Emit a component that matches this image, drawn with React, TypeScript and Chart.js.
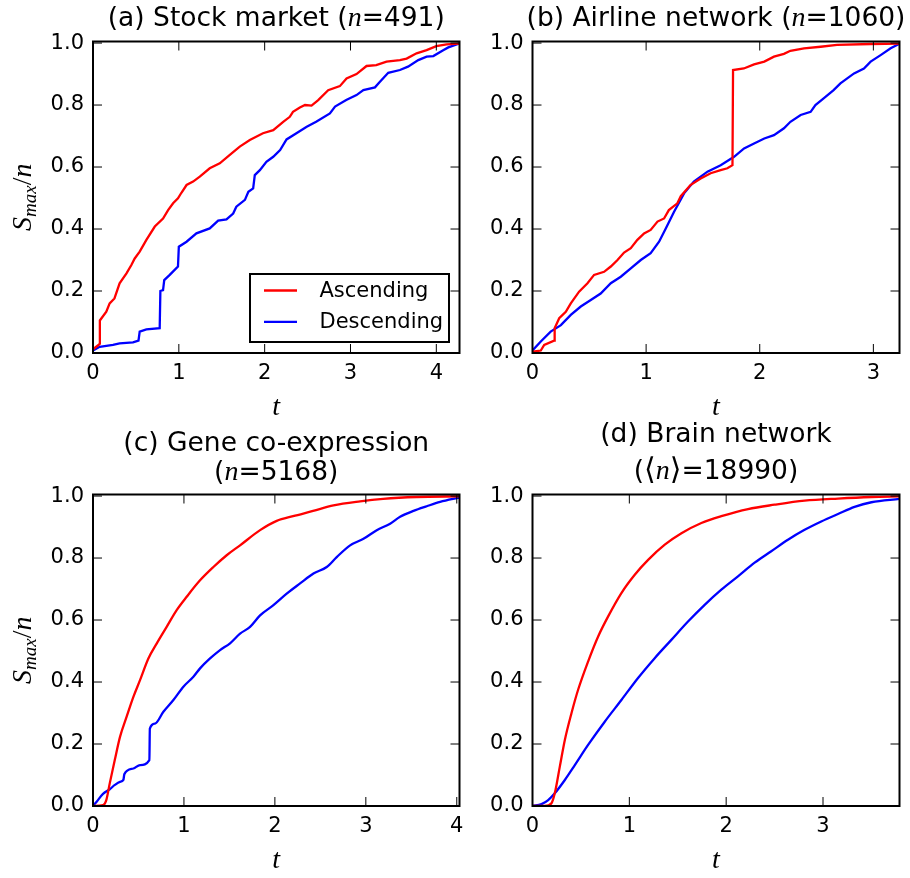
import React, { useEffect, useRef } from "react";
import { Chart, registerables } from "chart.js";

Chart.register(...registerables);

// ---------- data ----------
const seriesLabels = ["Ascending", "Descending"];
const yTickValues = [0, 0.2, 0.4, 0.6, 0.8, 1.0];

// (a) Stock market
const stockXTicks = [0, 1, 2, 3, 4];
const stockAscT = [0, 0.06, 0.08, 0.08, 0.155, 0.194, 0.25, 0.31, 0.39, 0.447, 0.486, 0.544, 0.622, 0.72, 0.816, 0.875, 0.933, 0.99, 1.03, 1.09, 1.166, 1.244, 1.36, 1.477, 1.594, 1.71, 1.827, 1.98, 2.1, 2.216, 2.293, 2.33, 2.41, 2.47, 2.546, 2.624, 2.74, 2.876, 2.954, 3.07, 3.187, 3.3, 3.42, 3.576, 3.654, 3.77, 3.887, 4.0, 4.12, 4.27];
const stockAscS = [0.012, 0.025, 0.03, 0.105, 0.133, 0.16, 0.176, 0.225, 0.257, 0.284, 0.305, 0.327, 0.365, 0.408, 0.434, 0.461, 0.483, 0.499, 0.517, 0.542, 0.553, 0.569, 0.596, 0.612, 0.639, 0.666, 0.687, 0.709, 0.719, 0.746, 0.762, 0.778, 0.792, 0.8, 0.798, 0.816, 0.848, 0.861, 0.886, 0.9, 0.926, 0.929, 0.94, 0.945, 0.95, 0.967, 0.977, 0.99, 0.996, 0.998];
const stockDescT = [0, 0.078, 0.233, 0.31, 0.466, 0.53, 0.544, 0.622, 0.777, 0.785, 0.816, 0.83, 0.894, 0.99, 1.0, 1.09, 1.205, 1.36, 1.458, 1.555, 1.633, 1.67, 1.77, 1.81, 1.866, 1.885, 1.944, 2.02, 2.1, 2.18, 2.255, 2.37, 2.49, 2.6, 2.76, 2.82, 2.95, 3.07, 3.15, 3.285, 3.343, 3.44, 3.576, 3.67, 3.79, 3.887, 3.965, 4.08, 4.14, 4.27];
const stockDescS = [0.008, 0.02, 0.026, 0.031, 0.034, 0.04, 0.069, 0.076, 0.08, 0.2, 0.203, 0.235, 0.252, 0.279, 0.343, 0.359, 0.386, 0.402, 0.427, 0.431, 0.45, 0.472, 0.494, 0.52, 0.531, 0.574, 0.59, 0.617, 0.633, 0.655, 0.689, 0.709, 0.73, 0.746, 0.773, 0.795, 0.816, 0.832, 0.848, 0.857, 0.875, 0.904, 0.913, 0.924, 0.945, 0.956, 0.958, 0.977, 0.986, 0.999];

// (b) Airline network
const airXTicks = [0, 1, 2, 3];
const airAscT = [0, 0.073, 0.103, 0.19, 0.195, 0.235, 0.293, 0.337, 0.41, 0.484, 0.542, 0.63, 0.689, 0.748, 0.806, 0.865, 0.923, 0.982, 1.04, 1.1, 1.158, 1.2, 1.275, 1.305, 1.39, 1.48, 1.568, 1.656, 1.715, 1.76, 1.765, 1.86, 1.95, 2.04, 2.125, 2.213, 2.27, 2.39, 2.536, 2.68, 2.976, 3.23];
const airAscS = [0.004, 0.008, 0.026, 0.04, 0.08, 0.112, 0.133, 0.16, 0.198, 0.225, 0.252, 0.262, 0.279, 0.3, 0.324, 0.338, 0.365, 0.386, 0.397, 0.424, 0.434, 0.461, 0.483, 0.506, 0.542, 0.563, 0.58, 0.59, 0.596, 0.606, 0.913, 0.918, 0.931, 0.94, 0.956, 0.965, 0.975, 0.983, 0.988, 0.994, 0.997, 0.998];
const airDescT = [0, 0.073, 0.16, 0.25, 0.337, 0.425, 0.513, 0.6, 0.689, 0.777, 0.865, 0.953, 1.04, 1.114, 1.173, 1.246, 1.334, 1.42, 1.54, 1.656, 1.774, 1.862, 1.95, 2.04, 2.125, 2.213, 2.27, 2.36, 2.448, 2.49, 2.565, 2.65, 2.71, 2.83, 2.917, 2.976, 3.064, 3.152, 3.23];
const airDescS = [0.008, 0.037, 0.069, 0.09, 0.123, 0.15, 0.171, 0.192, 0.225, 0.246, 0.273, 0.3, 0.322, 0.359, 0.402, 0.456, 0.515, 0.553, 0.585, 0.606, 0.633, 0.66, 0.676, 0.692, 0.703, 0.725, 0.746, 0.768, 0.778, 0.8, 0.822, 0.848, 0.87, 0.902, 0.918, 0.94, 0.961, 0.983, 0.998];

// (c) Gene co-expression
const geneXTicks = [0, 1, 2, 3, 4];
const geneAscT = [0, 0.11, 0.147, 0.184, 0.24, 0.297, 0.37, 0.444, 0.517, 0.609, 0.7, 0.81, 0.92, 1.03, 1.177, 1.324, 1.47, 1.617, 1.837, 2.02, 2.2, 2.42, 2.644, 2.937, 3.19, 3.56, 4.03];
const geneAscS = [0, 0.003, 0.02, 0.073, 0.149, 0.223, 0.288, 0.352, 0.406, 0.476, 0.524, 0.578, 0.632, 0.675, 0.728, 0.771, 0.809, 0.841, 0.89, 0.92, 0.935, 0.952, 0.97, 0.983, 0.991, 0.997, 0.999];
const geneDescT = [0, 0.04, 0.11, 0.184, 0.24, 0.297, 0.334, 0.345, 0.444, 0.517, 0.62, 0.625, 0.682, 0.774, 0.884, 0.994, 1.104, 1.177, 1.287, 1.397, 1.507, 1.617, 1.727, 1.837, 1.984, 2.13, 2.277, 2.424, 2.57, 2.68, 2.827, 2.974, 3.12, 3.267, 3.377, 3.524, 3.67, 3.817, 4.03];
const geneDescS = [0, 0.014, 0.039, 0.054, 0.068, 0.078, 0.084, 0.103, 0.121, 0.132, 0.148, 0.25, 0.266, 0.304, 0.342, 0.385, 0.417, 0.444, 0.476, 0.503, 0.525, 0.556, 0.578, 0.615, 0.648, 0.685, 0.718, 0.75, 0.771, 0.803, 0.841, 0.862, 0.89, 0.911, 0.933, 0.952, 0.967, 0.981, 0.995];

// (d) Brain network
const brainXTicks = [0, 1, 2, 3];
const brainAscT = [0, 0.127, 0.196, 0.23, 0.282, 0.334, 0.403, 0.471, 0.574, 0.678, 0.78, 0.918, 1.056, 1.194, 1.366, 1.538, 1.744, 1.95, 2.226, 2.5, 2.81, 3.155, 3.5, 3.79];
const brainAscS = [0, 0, 0.009, 0.041, 0.127, 0.213, 0.3, 0.375, 0.466, 0.547, 0.611, 0.687, 0.746, 0.794, 0.843, 0.88, 0.913, 0.935, 0.958, 0.972, 0.985, 0.992, 0.997, 0.999];
const brainDescT = [0, 0.093, 0.162, 0.23, 0.334, 0.437, 0.574, 0.746, 0.918, 1.09, 1.262, 1.434, 1.606, 1.778, 1.95, 2.122, 2.294, 2.466, 2.638, 2.81, 2.982, 3.155, 3.326, 3.5, 3.79];
const brainDescS = [0, 0.006, 0.019, 0.041, 0.084, 0.132, 0.197, 0.272, 0.342, 0.413, 0.477, 0.536, 0.595, 0.649, 0.698, 0.741, 0.785, 0.822, 0.859, 0.891, 0.918, 0.942, 0.965, 0.98, 0.991];

// ---------- styles / layout ----------
const W = 910;
const H = 878;
const SANS = '"DejaVu Sans", sans-serif';
const TITLE_FONT = `26.5px ${SANS}`;
const MATH_FONT = 'italic 28px "Liberation Serif", serif';
const MATH_SUB_FONT = 'italic 19px "Liberation Serif", serif';
const MATH_UP_FONT = '28px "Liberation Serif", serif';
const BRACKET_FONT = `30px ${SANS}`;
const TICK_FONT_SIZE = 21;
const ASC_COLOR = "#ff0000";
const DESC_COLOR = "#0000ff";
const LINE_W = 2.3;
const Y_AXIS_W = 60;
const X_AXIS_H = 40;
const TICK_LEN = 9;

type Seg = { text: string; font: string; dy?: number };
type TitleLine = { baseline: number; segs: Seg[] };

type PanelDef = {
  area: { left: number; top: number; right: number; bottom: number };
  xMax: number;
  xTicks: number[];
  asc: [number[], number[]];
  desc: [number[], number[]];
  title: TitleLine[];
  xLabelBaseline: number;
  yLabel: boolean;
  legend: boolean;
  smooth: boolean;
};

const nSeg = (): Seg => ({ text: "n", font: MATH_FONT });

const panels: PanelDef[] = [
  {
    area: { left: 93, top: 41.5, right: 459.5, bottom: 353 },
    xMax: 4.27,
    xTicks: stockXTicks,
    asc: [stockAscT, stockAscS],
    desc: [stockDescT, stockDescS],
    title: [{ baseline: 26, segs: [{ text: "(a) Stock market (", font: TITLE_FONT }, nSeg(), { text: "=491)", font: TITLE_FONT }] }],
    xLabelBaseline: 415,
    yLabel: true,
    legend: true,
    smooth: false,
  },
  {
    area: { left: 532.5, top: 41.5, right: 899.5, bottom: 353 },
    xMax: 3.23,
    xTicks: airXTicks,
    asc: [airAscT, airAscS],
    desc: [airDescT, airDescS],
    title: [{ baseline: 26, segs: [{ text: "(b) Airline network (", font: TITLE_FONT }, nSeg(), { text: "=1060)", font: TITLE_FONT }] }],
    xLabelBaseline: 415,
    yLabel: false,
    legend: false,
    smooth: false,
  },
  {
    area: { left: 93, top: 494.5, right: 459.5, bottom: 806 },
    xMax: 4.03,
    xTicks: geneXTicks,
    asc: [geneAscT, geneAscS],
    desc: [geneDescT, geneDescS],
    title: [
      { baseline: 451, segs: [{ text: "(c) Gene co-expression", font: TITLE_FONT }] },
      { baseline: 480, segs: [{ text: "(", font: TITLE_FONT }, nSeg(), { text: "=5168)", font: TITLE_FONT }] },
    ],
    xLabelBaseline: 868,
    yLabel: true,
    legend: false,
    smooth: true,
  },
  {
    area: { left: 532.5, top: 494.5, right: 899.5, bottom: 806 },
    xMax: 3.79,
    xTicks: brainXTicks,
    asc: [brainAscT, brainAscS],
    desc: [brainDescT, brainDescS],
    title: [
      { baseline: 442, segs: [{ text: "(d) Brain network", font: TITLE_FONT }] },
      {
        baseline: 479,
        segs: [
          { text: "(", font: TITLE_FONT },
          { text: "\u27E8", font: BRACKET_FONT },
          nSeg(),
          { text: "\u27E9", font: BRACKET_FONT },
          { text: "=18990)", font: TITLE_FONT },
        ],
      },
    ],
    xLabelBaseline: 868,
    yLabel: false,
    legend: false,
    smooth: true,
  },
];

function drawSegs(ctx: CanvasRenderingContext2D, segs: Seg[], cx: number, baseline: number) {
  let total = 0;
  const widths = segs.map((s) => {
    ctx.font = s.font;
    const w = ctx.measureText(s.text).width;
    total += w;
    return w;
  });
  let x = cx - total / 2;
  ctx.textAlign = "left";
  ctx.textBaseline = "alphabetic";
  segs.forEach((s, i) => {
    ctx.font = s.font;
    ctx.fillText(s.text, x, baseline + (s.dy || 0));
    x += widths[i];
  });
}

const decorPlugin = {
  id: "decor",
  afterDatasetsDraw(chart: any, _args: any, opts: any) {
    const { ctx, chartArea: ca, scales } = chart;
    const xs = scales.x;
    const ys = scales.y;
    const p: PanelDef = opts.panel;
    ctx.save();
    ctx.strokeStyle = "#000";
    ctx.fillStyle = "#000";
    // inward ticks on all four sides
    ctx.lineWidth = 1;
    ctx.beginPath();
    for (const v of p.xTicks) {
      const px = xs.getPixelForValue(v);
      ctx.moveTo(px, ca.bottom);
      ctx.lineTo(px, ca.bottom - TICK_LEN);
      ctx.moveTo(px, ca.top);
      ctx.lineTo(px, ca.top + TICK_LEN);
    }
    for (const v of yTickValues) {
      const py = ys.getPixelForValue(v);
      ctx.moveTo(ca.left, py);
      ctx.lineTo(ca.left + TICK_LEN, py);
      ctx.moveTo(ca.right, py);
      ctx.lineTo(ca.right - TICK_LEN, py);
    }
    ctx.stroke();
    // frame
    ctx.lineWidth = 2;
    ctx.strokeRect(ca.left, ca.top, ca.right - ca.left, ca.bottom - ca.top);

    // legend
    if (p.legend) {
      const bx = ca.right - 209.5;
      const by = ca.top + 232.5;
      const bw = 199;
      const bh = 68;
      ctx.fillStyle = "#fff";
      ctx.fillRect(bx, by, bw, bh);
      ctx.strokeStyle = "#000";
      ctx.lineWidth = 2;
      ctx.strokeRect(bx, by, bw, bh);
      chart.data.datasets.forEach((ds: any, i: number) => {
        const ly = by + 16.5 + i * 31.3;
        ctx.strokeStyle = ds.borderColor;
        ctx.lineWidth = LINE_W;
        ctx.beginPath();
        ctx.moveTo(bx + 14, ly);
        ctx.lineTo(bx + 47, ly);
        ctx.stroke();
        ctx.fillStyle = "#000";
        ctx.font = `${TICK_FONT_SIZE}px ${SANS}`;
        ctx.textAlign = "left";
        ctx.textBaseline = "middle";
        ctx.fillText(ds.label, bx + 69.5, ly + 1);
      });
    }

    // titles
    ctx.fillStyle = "#000";
    const cx = (ca.left + ca.right) / 2;
    for (const line of p.title) drawSegs(ctx, line.segs, cx, line.baseline);

    // x label
    drawSegs(ctx, [{ text: "t", font: MATH_FONT }], cx, p.xLabelBaseline);

    // y label
    if (p.yLabel) {
      ctx.save();
      ctx.translate(31, (ca.top + ca.bottom) / 2);
      ctx.rotate(-Math.PI / 2);
      drawSegs(
        ctx,
        [
          { text: "S", font: MATH_FONT },
          { text: "max", font: MATH_SUB_FONT, dy: 5 },
          { text: "/", font: MATH_UP_FONT },
          { text: "n", font: MATH_FONT },
        ],
        0,
        0
      );
      ctx.restore();
    }
    ctx.restore();
  },
};

function toPoints(t: number[], s: number[]) {
  return t.map((x, i) => ({ x, y: s[i] }));
}

function Panel({ p }: { p: PanelDef }) {
  const ref = useRef<HTMLCanvasElement | null>(null);
  useEffect(() => {
    if (!ref.current) return;
    const tickFont = { family: SANS, size: TICK_FONT_SIZE };
    const mode = p.smooth ? "monotone" : "default";
    const chart = new Chart(ref.current, {
      type: "line",
      data: {
        datasets: [
          {
            label: seriesLabels[0],
            data: toPoints(p.asc[0], p.asc[1]),
            borderColor: ASC_COLOR,
            backgroundColor: ASC_COLOR,
            borderWidth: LINE_W,
            pointRadius: 0,
            tension: 0,
            cubicInterpolationMode: mode as any,
            fill: false,
          },
          {
            label: seriesLabels[1],
            data: toPoints(p.desc[0], p.desc[1]),
            borderColor: DESC_COLOR,
            backgroundColor: DESC_COLOR,
            borderWidth: LINE_W,
            pointRadius: 0,
            tension: 0,
            cubicInterpolationMode: mode as any,
            fill: false,
          },
        ],
      },
      options: {
        responsive: false,
        maintainAspectRatio: false,
        animation: false,
        devicePixelRatio: 1,
        events: [],
        layout: {
          padding: {
            left: p.area.left - Y_AXIS_W,
            top: p.area.top,
            right: W - p.area.right,
            bottom: H - p.area.bottom - X_AXIS_H,
          },
        },
        scales: {
          x: {
            type: "linear",
            min: 0,
            max: p.xMax,
            afterFit: (s: any) => {
              s.height = X_AXIS_H;
            },
            afterBuildTicks: (ax: any) => {
              ax.ticks = p.xTicks.map((v) => ({ value: v }));
            },
            grid: { display: false, drawTicks: false, tickLength: 0 },
            border: { display: false },
            ticks: {
              font: tickFont,
              color: "#000",
              padding: 8,
              maxRotation: 0,
              autoSkip: false,
              callback: (v: any) => String(v),
            },
          },
          y: {
            type: "linear",
            min: 0,
            max: 1.005,
            afterFit: (s: any) => {
              s.width = Y_AXIS_W;
            },
            afterBuildTicks: (ax: any) => {
              ax.ticks = yTickValues.map((v) => ({ value: v }));
            },
            grid: { display: false, drawTicks: false, tickLength: 0 },
            border: { display: false },
            ticks: {
              font: tickFont,
              color: "#000",
              padding: 9,
              autoSkip: false,
              callback: (v: any) => Number(v).toFixed(1),
            },
          },
        },
        plugins: {
          legend: { display: false },
          tooltip: { enabled: false },
          title: { display: false },
          decor: { panel: p },
        } as any,
      },
      plugins: [decorPlugin as any],
    });
    return () => chart.destroy();
  }, [p]);
  return (
    <canvas
      ref={ref}
      width={W}
      height={H}
      style={{ position: "absolute", left: 0, top: 0, width: W, height: H, display: "block", pointerEvents: "none" }}
    />
  );
}

export default function App() {
  useEffect(() => {
    document.body.style.margin = "0";
    document.body.style.background = "#fff";
  }, []);
  return (
    <div style={{ position: "absolute", left: 0, top: 0, width: W, height: H, background: "#fff", overflow: "hidden" }}>
      {panels.map((p, i) => (
        <Panel key={i} p={p} />
      ))}
    </div>
  );
}
